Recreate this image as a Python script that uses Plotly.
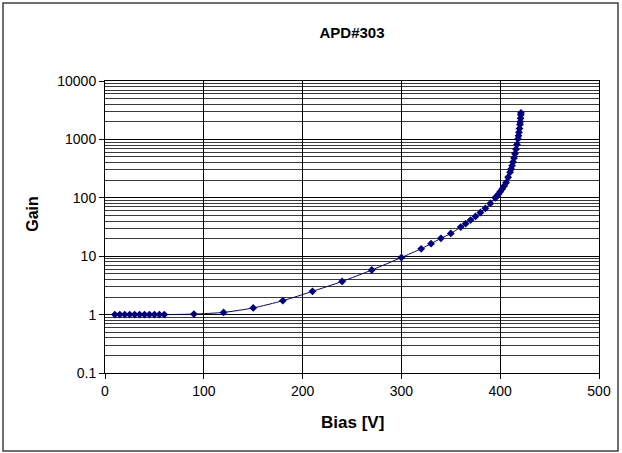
import plotly.graph_objects as go

# ---- data ----
bias_v = [10, 15, 20, 25, 30, 35, 40, 45, 50, 55, 60,
          90, 120, 150, 180, 210, 240, 270, 300,
          320, 330, 340, 350, 360, 365, 370, 375, 380, 385, 390, 395,
          396, 398, 400, 402, 404, 406, 408, 410, 411, 412, 413, 414,
          415, 416, 417, 418, 418.5, 419, 419.5, 420, 420.3, 420.6, 420.9, 421]
gain = [1.0, 1.0, 1.0, 1.0, 1.0, 1.0, 1.0, 1.0, 1.0, 1.0, 1.0,
        1.02, 1.09, 1.3, 1.73, 2.5, 3.7, 5.8, 9.5,
        13.4, 16.4, 20.2, 24.5, 31.5, 36, 41.5, 48, 56, 66, 80, 100,
        104, 114, 127, 142, 160, 182, 225, 275, 310, 355, 410, 480,
        570, 680, 820, 1020, 1150, 1320, 1530, 1800, 2000, 2300, 2650, 2850]

x_ticks = [0, 100, 200, 300, 400, 500]
y_ticks = [0.1, 1, 10, 100, 1000, 10000]
y_tick_text = ["0.1", "1", "10", "100", "1000", "10000"]

title_text = "APD#303"
x_title = "Bias [V]"
y_title = "Gain"

FONT = "Liberation Sans, Arial, sans-serif"
NAVY = "#000080"

fig = go.Figure()
fig.add_trace(go.Scatter(
    x=bias_v, y=gain, mode="lines+markers",
    line=dict(color=NAVY, width=1, shape="spline", smoothing=0.6),
    marker=dict(symbol="diamond", size=6, color=NAVY),
    showlegend=False,
))

fig.update_layout(
    width=622, height=453,
    margin=dict(l=105, r=23, t=81, b=80),
    paper_bgcolor="white", plot_bgcolor="white",
    font=dict(family=FONT, color="black", size=14),
    title=dict(text="<b>" + title_text + "</b>", x=0.5, xref="paper",
               y=1 - 33 / 453, yref="container", xanchor="center", yanchor="middle",
               font=dict(family=FONT, size=15, color="black")),
    xaxis=dict(range=[0, 500], tickvals=x_ticks, ticks="outside", ticklen=5,
               tickcolor="black", showline=True, linecolor="black", linewidth=1,
               mirror=True, showgrid=True, gridcolor="black", gridwidth=1,
               zeroline=False, tickfont=dict(size=14, family=FONT)),
    yaxis=dict(type="log", range=[-1, 4], tickvals=y_ticks, ticktext=y_tick_text,
               ticks="outside", ticklen=5, tickcolor="black",
               showline=True, linecolor="black", linewidth=1, mirror=True,
               showgrid=True, gridcolor="black", gridwidth=1, zeroline=False,
               minor=dict(dtick="D1", showgrid=True, gridcolor="#3a3a3a",
                          gridwidth=1, ticks=""),
               tickfont=dict(size=14, family=FONT)),
    annotations=[
        dict(text="<b>" + x_title + "</b>", xref="paper", yref="paper",
             x=0.5, y=-0.168, xanchor="center", yanchor="middle",
             showarrow=False, font=dict(size=17, family=FONT)),
        dict(text="<b>" + y_title + "</b>", xref="paper", yref="paper",
             x=-0.146, y=0.545, xanchor="center", yanchor="middle",
             textangle=-90, showarrow=False, font=dict(size=16, family=FONT)),
    ],
    shapes=[
        dict(type="rect", xref="paper", yref="paper",
             x0=(3 - 105) / 494, x1=(618 - 105) / 494,
             y0=(373 - 451) / 292, y1=(373 - 3) / 292,
             line=dict(color="#404040", width=1.5), fillcolor="rgba(0,0,0,0)",
             layer="below"),
    ],
)

fig.write_html("out.html", config={"displayModeBar": False},
               post_script="document.body.style.margin='0';document.body.style.padding='0';")
